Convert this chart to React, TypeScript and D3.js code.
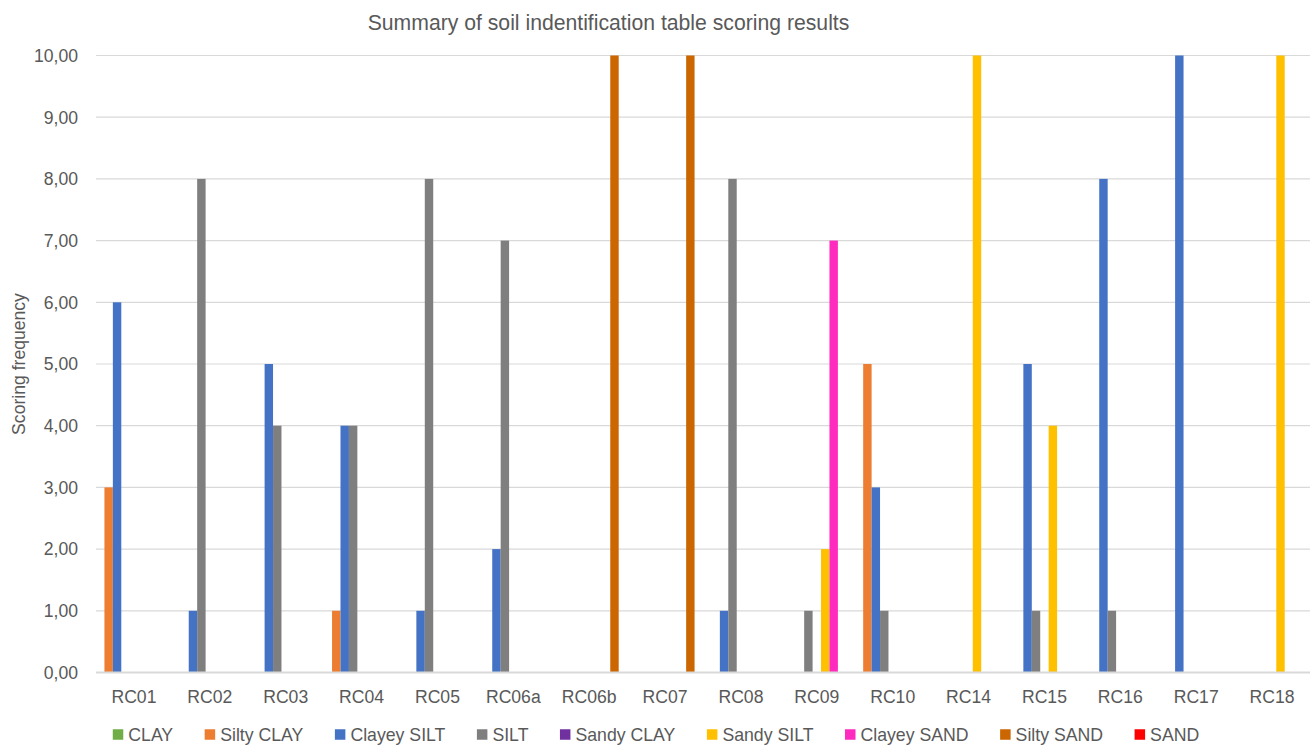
import React from "react";
import * as d3 from "d3";

const categories = ["RC01","RC02","RC03","RC04","RC05","RC06a","RC06b","RC07","RC08","RC09","RC10","RC14","RC15","RC16","RC17","RC18"];
const seriesNames = ["CLAY","Silty CLAY","Clayey SILT","SILT","Sandy CLAY","Sandy SILT","Clayey SAND","Silty SAND","SAND"];
const seriesColors = ["#70AD47","#ED7D31","#4472C4","#7F7F7F","#7030A0","#FFC000","#FF2BBE","#CC6600","#FF0000"];

const clay       = [0,0,0,0,0,0,0,0,0,0,0,0,0,0,0,0];
const siltyClay  = [3,0,0,1,0,0,0,0,0,0,5,0,0,0,0,0];
const clayeySilt = [6,1,5,4,1,2,0,0,1,0,3,0,5,8,10,0];
const silt       = [0,8,4,4,8,7,0,0,8,1,1,0,1,1,0,0];
const sandyClay  = [0,0,0,0,0,0,0,0,0,0,0,0,0,0,0,0];
const sandySilt  = [0,0,0,0,0,0,0,0,0,2,0,10,4,0,0,10];
const clayeySand = [0,0,0,0,0,0,0,0,0,7,0,0,0,0,0,0];
const siltySand  = [0,0,0,0,0,0,10,10,0,0,0,0,0,0,0,0];
const sand       = [0,0,0,0,0,0,0,0,0,0,0,0,0,0,0,0];

const seriesValues = [clay, siltyClay, clayeySilt, silt, sandyClay, sandySilt, clayeySand, siltySand, sand];
const yTicks = [0,1,2,3,4,5,6,7,8,9,10];

const W = 1312, H = 746;
const FONT = "'Liberation Sans', Arial, sans-serif";
const TXT = "#595959";

function measure(text: string, size: number) {
  if (typeof document === "undefined") return text.length * size * 0.55;
  const c = document.createElement("canvas").getContext("2d");
  if (!c) return text.length * size * 0.55;
  c.font = `${size}px 'Liberation Sans', Arial, sans-serif`;
  return c.measureText(text).width;
}

export default function App() {
  const left = 96, right = 1310, top = 55.5, bottom = 672.5;
  const x = d3.scaleBand<string>().domain(categories).range([left, right]).paddingInner(0).paddingOuter(0);
  const xs = d3.scaleBand<string>().domain(seriesNames).range([0, x.bandwidth()]).padding(0);
  const y = d3.scaleLinear().domain([0, 10]).range([bottom, top]);
  const fmt = (v: number) => d3.format(".2f")(v).replace(".", ",");

  const legSize = 17.7;
  const sq = 10.5;
  const textOff = 15.5;
  const gap = 31.5;
  const widths = seriesNames.map((s) => measure(s, legSize));
  const total = widths.reduce((a, w) => a + textOff + w, 0) + gap * (seriesNames.length - 1);
  let lx = W / 2 - total / 2;
  const legendItems = seriesNames.map((s, i) => {
    const item = { name: s, x: lx, color: seriesColors[i] };
    lx += textOff + widths[i] + gap;
    return item;
  });
  const legY = 734.5;

  return (
    <svg width={W} height={H} style={{ position: "absolute", left: 0, top: 0, background: "#fff" }} fontFamily={FONT}>
      <rect width={W} height={H} fill="#fff" />
      <text x={608.5} y={29.5} textAnchor="middle" fontSize={21.2} fill={TXT}>
        Summary of soil indentification table scoring results
      </text>
      {yTicks.map((t) => (
        <g key={t}>
          {t > 0 && <line x1={left} x2={right} y1={y(t)} y2={y(t)} stroke="#D9D9D9" strokeWidth={1.2} />}
          <text x={78} y={y(t)} dy="0.36em" textAnchor="end" fontSize={17.6} fill={TXT}>{fmt(t)}</text>
        </g>
      ))}
      {seriesValues.map((vals, si) =>
        vals.map((v, ci) =>
          v > 0 ? (
            <rect key={`${si}-${ci}`} x={(x(categories[ci]) as number) + (xs(seriesNames[si]) as number)} width={xs.bandwidth()} y={y(v)} height={y(0) - y(v)} fill={seriesColors[si]} />
          ) : null
        )
      )}
      <line x1={left} x2={right} y1={bottom} y2={bottom} stroke="#D9D9D9" strokeWidth={2} />
      {categories.map((c) => (
        <text key={c} x={(x(c) as number) + x.bandwidth() / 2} y={703} textAnchor="middle" fontSize={17.6} fill={TXT}>{c}</text>
      ))}
      <text transform={`translate(25, ${(top + bottom) / 2}) rotate(-90)`} textAnchor="middle" fontSize={17.6} fill={TXT}>Scoring frequency</text>
      {legendItems.map((it) => (
        <g key={it.name}>
          <rect x={it.x} y={legY - sq / 2} width={sq} height={sq} fill={it.color} />
          <text x={it.x + textOff} y={legY} dy="0.36em" fontSize={legSize} fill={TXT}>{it.name}</text>
        </g>
      ))}
    </svg>
  );
}
